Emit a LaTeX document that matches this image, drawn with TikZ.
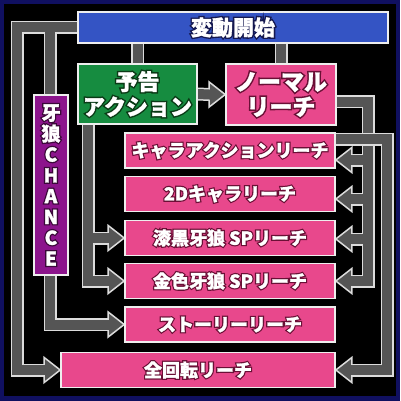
\documentclass[tikz,border=0pt]{standalone}
\usepackage{fontspec}
\setmainfont{Noto Sans CJK JP}[FakeBold=1.5]
\newfontfamily\edgefont{Noto Sans CJK JP}[FakeBold=15]

\definecolor{rim}{HTML}{101060}
\definecolor{titleblue}{HTML}{3454C4}
\definecolor{titledark}{HTML}{141850}
\definecolor{noticegreen}{HTML}{168C40}
\definecolor{greendark}{HTML}{0A3A16}
\definecolor{reachpink}{HTML}{E8488C}
\definecolor{pinkdark}{HTML}{6A1036}
\definecolor{chancepurple}{HTML}{8C148C}
\definecolor{purpledark}{HTML}{3A0838}
\definecolor{bandgray}{HTML}{555555}
\definecolor{bandedge}{HTML}{DCDCDC}
\definecolor{boxedge}{HTML}{EEEEEE}

\pgfdeclarelayer{backdrop}
\pgfdeclarelayer{bandlayer}
\pgfsetlayers{backdrop,bandlayer,main}

\tikzset{
  box/.style={draw=boxedge, line width=1.6pt, inner sep=0pt, text=white, align=center,
    font=\bfseries\fontsize{18}{21}\selectfont},
  titlebox/.style={box, fill=titleblue, minimum width=310pt, minimum height=31pt,
    font=\bfseries\fontsize{21}{23}\selectfont},
  noticebox/.style={box, fill=noticegreen, minimum width=119pt, minimum height=60pt,
    font=\bfseries\fontsize{22}{25}\selectfont},
  normalbox/.style={box, fill=reachpink, minimum width=110pt, minimum height=61pt,
    font=\bfseries\fontsize{23}{25}\selectfont},
  reachbox/.style={box, fill=reachpink, minimum width=210pt, minimum height=35pt},
  chancebox/.style={box, fill=chancepurple, minimum width=34pt, minimum height=180pt,
    font=\bfseries\fontsize{19}{20.8}\selectfont},
  bandout/.style={draw=bandedge, line width=13pt, line join=miter},
  bandfill/.style={draw=bandgray, line width=10pt, line join=miter, shorten >=-2pt},
  headbox/.style={fill=bandgray, draw=bandedge, line width=1.5pt, line join=miter},
}

% outlined texts: a thick dark copy under the white one
\newcommand\ol[2]{\leavevmode\rlap{\edgefont\color{#1}#2}#2}
\newcommand\tb[1]{\ol{titledark}{#1}}
\newcommand\gt[1]{\ol{greendark}{#1}}
\newcommand\pk[1]{\ol{pinkdark}{#1}}
\newcommand\pu[1]{\ol{purpledark}{#1}}

% arrow heads
\newcommand\headright[1]{\filldraw[headbox] (#1) -- ++(-16,-12.5) -- ++(0,25) -- cycle;}
\newcommand\headleft[1]{\filldraw[headbox] (#1) -- ++(16,-12.5) -- ++(0,25) -- cycle;}

% connectors, drawn once per pass
\newcommand\mainbands[1]{%
  \draw[#1] (yokoku.north |- start.south) -- (yokoku.north);
  \draw[#1] (normal.north |- start.south) -- (normal.north);
  \draw[#1] (start.west) -- (colL |- start.west) -- (colL |- zenkai.west) -- ([xshift=-16pt]zenkai.west);
  \draw[#1] (colC |- start.west) -- (colC |- chance.north);
  \draw[#1] (colC |- chance.south) -- (colC |- story.west) -- ([xshift=-16pt]story.west);
  \draw[#1] (colY |- yokoku.south) -- (colY |- kinshoku.west) -- ([xshift=-16pt]kinshoku.west);
  \draw[#1] (colY |- shikkoku.west) -- ([xshift=-16pt]shikkoku.west);
  \draw[#1] (yokoku.east) -- ([xshift=-16pt]normal.west);
  \draw[#1] (normal.east |- rowN) -- (colA |- rowN) -- (colA |- kitip) -- ([xshift=16pt]kitip);
  \draw[#1] (colA |- chtip) -- ([xshift=16pt]chtip);
  \draw[#1] (colA |- dtip) -- ([xshift=16pt]dtip);
  \draw[#1] (colA |- shtip) -- ([xshift=16pt]shtip);
}
\newcommand\outerbands[1]{%
  \draw[#1] (chara.east |- rowC) -- (colB |- rowC) -- (colB |- zenkai.east) -- ([xshift=16pt]zenkai.east);
}

\begin{document}
\begin{tikzpicture}[x=1pt,y=-1pt]
\useasboundingbox (0,0) rectangle (400,401);
\begin{pgfonlayer}{backdrop}
\fill[rim] (0,0) rectangle (400,401);
\fill[black] (4,4) rectangle (395.5,396);
\end{pgfonlayer}

\node[titlebox] (start) at (233,27.5) {\tb{変動開始}};
\node[noticebox] (yokoku) at (137.5,94) {\gt{予告}\\\gt{アクション}};
\node[normalbox] (normal) at (281,94.5) {\pk{ノーマル}\\\pk{リーチ}};
\node[chancebox] (chance) at (51,185) {\pu{牙}\\\pu{狼}\\\pu{C}\\\pu{H}\\\pu{A}\\\pu{N}\\\pu{C}\\\pu{E}};
\node[reachbox] (chara) at (230,150.5) {\pk{キャラアクションリーチ}};
\node[reachbox] (d2) at (230,194) {\pk{2Dキャラリーチ}};
\node[reachbox] (shikkoku) at (230,238) {\pk{漆黒牙狼 SPリーチ}};
\node[reachbox] (kinshoku) at (230,281) {\pk{金色牙狼 SPリーチ}};
\node[reachbox] (story) at (230,324.5) {\pk{ストーリーリーチ}};
\node[reachbox, minimum width=274pt] (zenkai) at (198,370) {\pk{全回転リーチ}};

% columns and rows of the connectors
\coordinate (colL) at (17,0);
\coordinate (colC) at (50,0);
\coordinate (colY) at (88,0);
\coordinate (colA) at (368,0);
\coordinate (colB) at (387,0);
\coordinate (rowN) at (0,102);
\coordinate (rowC) at (0,139);
\coordinate (chtip) at (chara.east |- 0,160);
\coordinate (dtip) at (d2.east |- 0,199);
\coordinate (shtip) at (shikkoku.east |- 0,239);
\coordinate (kitip) at (kinshoku.east);

\begin{pgfonlayer}{bandlayer}
\mainbands{bandout}
\headright{zenkai.west}
\headright{story.west}
\headright{kinshoku.west}
\headright{shikkoku.west}
\headright{normal.west}
\headleft{chtip}
\headleft{dtip}
\headleft{shtip}
\headleft{kitip}
\mainbands{bandfill}
\outerbands{bandout}
\headleft{zenkai.east}
\outerbands{bandfill}
\end{pgfonlayer}
\end{tikzpicture}
\end{document}
